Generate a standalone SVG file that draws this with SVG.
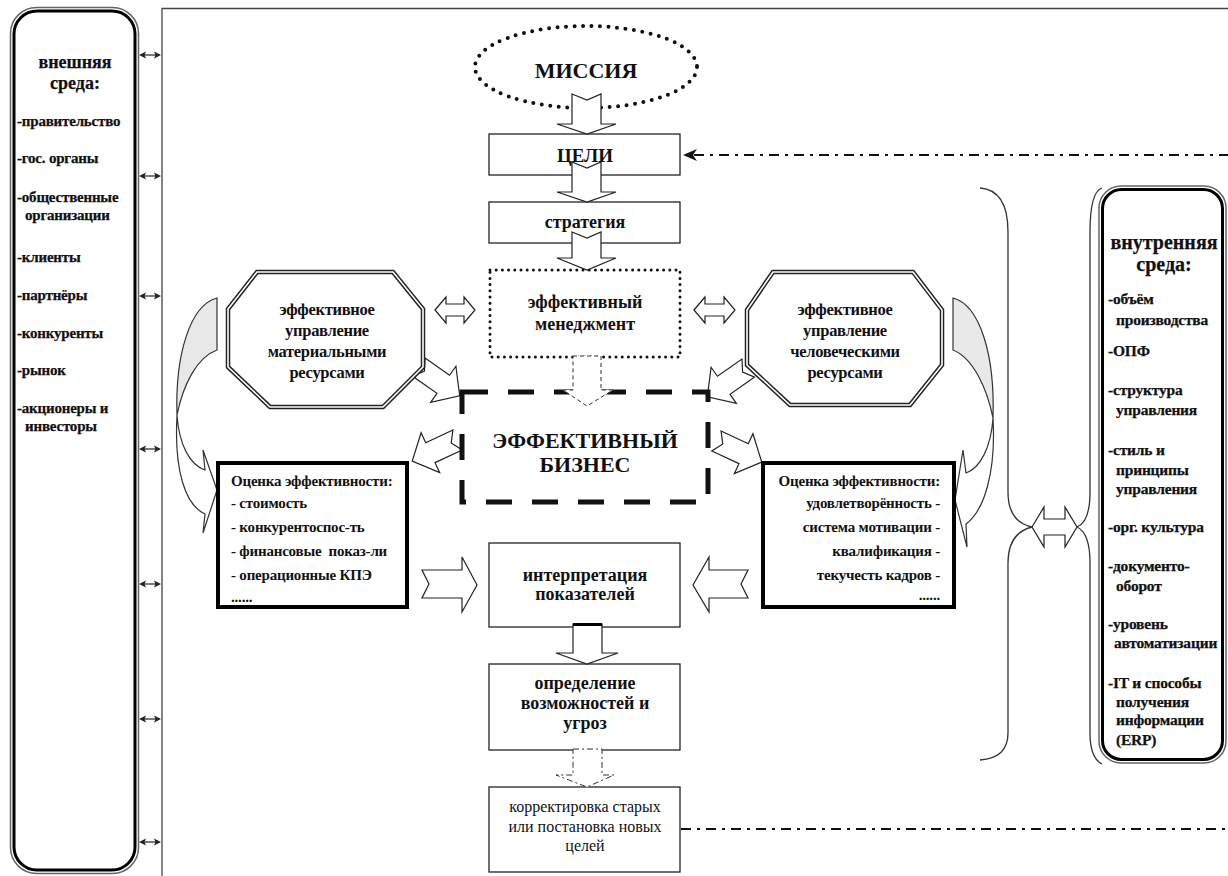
<svg xmlns="http://www.w3.org/2000/svg" width="1228" height="876" viewBox="0 0 1228 876">
<style>
.t{font-family:"Liberation Serif","Times New Roman",serif;fill:#111;}
.b{font-weight:bold;}
.c{text-anchor:middle;}
.e{text-anchor:end;}
.side{font-size:15px;font-weight:bold;letter-spacing:-0.2px;stroke:#111;stroke-width:0.25px;}
.side2{font-size:15.5px;font-weight:bold;letter-spacing:-0.2px;stroke:#111;stroke-width:0.25px;}
.ctr{font-size:18px;font-weight:bold;}
.oct{font-size:16.5px;font-weight:bold;letter-spacing:-0.3px;}
.ev{font-size:15px;font-weight:bold;letter-spacing:-0.2px;}
.box{fill:#fff;stroke:#222;stroke-width:1.3;}
.blk{fill:#fff;stroke:#222;stroke-width:1.2;stroke-linejoin:miter;}
.thin{fill:none;stroke:#333;stroke-width:1.3;}
.dd{fill:none;stroke:#111;stroke-width:2;stroke-dasharray:10 6 3 6;}
</style>
<defs>
<g id="dbl">
<line x1="142" y1="0" x2="158" y2="0" stroke="#222" stroke-width="1.2"/>
<path d="M139,0 L146,-3.5 L144.5,0 L146,3.5 Z" fill="#222"/>
<path d="M161,0 L154,-3.5 L155.5,0 L154,3.5 Z" fill="#222"/>
</g>
<path id="notch" d="M-26,-11 L4,-11 L4,-22 L24,0 L4,22 L4,11 L-26,11 L-19,0 Z"/>
<path id="octL" d="M257,272 L393,272 L423,309 L423,367 L383,407 L270,407 L228,367 L228,309 Z"/>
<path id="octR" d="M773,272 L913,272 L942,310 L942,365 L910,405 L790,405 L747,365 L747,310 Z"/>
</defs>

<!-- frame -->
<g id="frame">
<path d="M162,876 L162,8.5 L1228,8.5" fill="none" stroke="#444" stroke-width="1.3"/>
</g>

<!-- connectors -->
<g id="connectors">
<use href="#dbl" y="55"/>
<use href="#dbl" y="176"/>
<use href="#dbl" y="296"/>
<use href="#dbl" y="449"/>
<use href="#dbl" y="584"/>
<use href="#dbl" y="719"/>
<use href="#dbl" y="842"/>
<!-- dash-dot feedback lines -->
<line x1="694" y1="155" x2="1228" y2="155" class="dd"/>
<path d="M683,155 L697,149 L693,155 L697,161 Z" fill="#111"/>
<line x1="681" y1="829" x2="1228" y2="829" class="dd"/>
<!-- braces -->
<path class="thin" d="M980,188 Q1008,190 1008,232 L1008,492 Q1008,522 1032,527 Q1008,533 1008,563 L1008,733 Q1008,758 980,760"/>
<path class="thin" d="M1102,188 Q1090,192 1090,232 L1090,492 Q1090,522 1077,527 Q1090,533 1090,563 L1090,733 Q1090,758 1102,764"/>
<path class="blk" d="M1032,527 L1044,507 L1044,519 L1065,519 L1065,507 L1077,527 L1065,547 L1065,535 L1044,535 L1044,547 Z"/>
<!-- double arrows near management -->
<path class="blk" d="M435,310 L446,297 L446,304 L464,304 L464,297 L475,310 L464,323 L464,316 L446,316 L446,323 Z"/>
<path class="blk" d="M694,310 L705,297 L705,304 L724,304 L724,297 L735,310 L724,323 L724,316 L705,316 L705,323 Z"/>
<!-- curved arrows -->
<path d="M217,298 C190,305 175,355 177,415 C183,385 197,357 217,350 Z" fill="#e8e8e8" stroke="#333" stroke-width="1.2"/>
<path d="M177,415 C179,445 190,465 205,470 L203,450 L217,490 L203,533 L205,514 C185,505 174,470 177,415 Z" fill="#fff" stroke="#333" stroke-width="1.2"/>
<path d="M953,298 C980,305 995,355 993,418 C987,388 973,358 953,350 Z" fill="#e8e8e8" stroke="#333" stroke-width="1.2"/>
<path d="M993,418 C991,448 980,468 966,473 L963,450 L955,500 L967,547 L966,524 C985,510 996,470 993,418 Z" fill="#fff" stroke="#333" stroke-width="1.2"/>
<!-- diagonal notched arrows -->
<use href="#notch" class="blk" transform="translate(440,382) rotate(35)"/>
<use href="#notch" class="blk" transform="translate(727,383) rotate(145)"/>
<use href="#notch" class="blk" transform="translate(434,451) rotate(155)"/>
<use href="#notch" class="blk" transform="translate(740,452) rotate(25)"/>
<!-- horizontal notched arrows to interpretation -->
<path class="blk" d="M422,570 L462,570 L462,557 L477,585 L462,612 L462,598 L422,598 L429,584 Z"/>
<path class="blk" d="M748,570 L709,570 L709,557 L693,585 L709,612 L709,598 L748,598 L741,584 Z"/>
</g>

<!-- left panel: external environment -->
<g id="external">
<rect x="10.5" y="7.5" width="128" height="866" rx="26" fill="#fff" stroke="#666" stroke-width="1.5"/>
<rect x="14" y="11" width="121" height="859" rx="23" fill="none" stroke="#000" stroke-width="3"/>
<text class="t b c" x="75" y="68" font-size="18" stroke="#111" stroke-width="0.25">внешняя</text>
<text class="t b c" x="75" y="89" font-size="18" stroke="#111" stroke-width="0.25">среда:</text>
<text class="t side" x="17" y="126">-правительство</text>
<text class="t side" x="17" y="163">-гос. органы</text>
<text class="t side" x="17" y="202">-общественные</text>
<text class="t side" x="25" y="220">организации</text>
<text class="t side" x="17" y="262">-клиенты</text>
<text class="t side" x="17" y="300">-партнёры</text>
<text class="t side" x="17" y="338">-конкуренты</text>
<text class="t side" x="17" y="375">-рынок</text>
<text class="t side" x="17" y="413">-акционеры и</text>
<text class="t side" x="25" y="431">инвесторы</text>
</g>

<!-- right panel: internal environment -->
<g id="internal">
<rect x="1099" y="186" width="127" height="577" rx="22" fill="#fff" stroke="#666" stroke-width="1.5"/>
<rect x="1102.5" y="189.5" width="120" height="570" rx="19" fill="none" stroke="#000" stroke-width="3"/>
<text class="t b c" x="1164" y="249" font-size="20" stroke="#111" stroke-width="0.25">внутренняя</text>
<text class="t b c" x="1164" y="271" font-size="20" stroke="#111" stroke-width="0.25">среда:</text>
<text class="t side2" x="1108" y="304">-объём</text>
<text class="t side2" x="1116" y="325">производства</text>
<text class="t side2" x="1108" y="356">-ОПФ</text>
<text class="t side2" x="1108" y="395">-структура</text>
<text class="t side2" x="1116" y="415">управления</text>
<text class="t side2" x="1108" y="455">-стиль и</text>
<text class="t side2" x="1116" y="475">принципы</text>
<text class="t side2" x="1116" y="494">управления</text>
<text class="t side2" x="1108" y="532">-орг. культура</text>
<text class="t side2" x="1108" y="571">-документо-</text>
<text class="t side2" x="1116" y="591">оборот</text>
<text class="t side2" x="1108" y="629">-уровень</text>
<text class="t side2" x="1114" y="648">автоматизации</text>
<text class="t side2" x="1108" y="688">-IT и способы</text>
<text class="t side2" x="1116" y="707">получения</text>
<text class="t side2" x="1116" y="725">информации</text>
<text class="t side2" x="1116" y="745">(ERP)</text>
</g>

<!-- mission -->
<g id="mission">
<ellipse cx="586" cy="67" rx="111" ry="41" fill="#fff" stroke="#111" stroke-width="4" stroke-dasharray="0 8.5" stroke-linecap="round"/>
<text class="t b c" x="586" y="78" font-size="22">МИССИЯ</text>
</g>

<!-- goals -->
<g id="goals">
<rect class="box" x="489" y="134" width="191" height="41"/>
<text class="t b c" x="585" y="162" font-size="19">ЦЕЛИ</text>
</g>

<!-- strategy -->
<g id="strategy">
<rect class="box" x="489" y="202" width="191" height="41"/>
<text class="t c ctr" x="585" y="228">стратегия</text>
</g>

<!-- effective management -->
<g id="management">
<rect x="490" y="270" width="190" height="87" fill="#fff" stroke="#111" stroke-width="3" stroke-dasharray="0 6.2" stroke-linecap="round"/>
<text class="t c ctr" x="585" y="308" font-size="18.5">эффективный</text>
<text class="t c ctr" x="585" y="330" font-size="18.5">менеджмент</text>
</g>

<!-- effective business -->
<g id="business">
<rect x="462" y="392" width="246" height="110" fill="#fff" stroke="#111" stroke-width="5" stroke-dasharray="26 20"/>
<text class="t b c" x="585" y="448" font-size="22">ЭФФЕКТИВНЫЙ</text>
<text class="t b c" x="585" y="472" font-size="22">БИЗНЕС</text>
</g>

<!-- material resources octagon -->
<g id="material">
<use href="#octL" fill="#fff" stroke="#222" stroke-width="4.5"/>
<use href="#octL" fill="none" stroke="#fff" stroke-width="1.6"/>
<text class="t c oct" x="327" y="315">эффективное</text>
<text class="t c oct" x="327" y="336">управление</text>
<text class="t c oct" x="327" y="357">материальными</text>
<text class="t c oct" x="327" y="378">ресурсами</text>
</g>

<!-- human resources octagon -->
<g id="human">
<use href="#octR" fill="#fff" stroke="#222" stroke-width="4.5"/>
<use href="#octR" fill="none" stroke="#fff" stroke-width="1.6"/>
<text class="t c oct" x="845" y="315">эффективное</text>
<text class="t c oct" x="845" y="336">управление</text>
<text class="t c oct" x="845" y="357">человеческими</text>
<text class="t c oct" x="845" y="378">ресурсами</text>
</g>

<!-- left assessment -->
<g id="assessL">
<rect x="218" y="463" width="189" height="144" fill="#fff" stroke="#000" stroke-width="4"/>
<text class="t ev" x="231" y="486">Оценка эффективности:</text>
<text class="t ev" x="231" y="508">- стоимость</text>
<text class="t ev" x="231" y="532">- конкурентоспос-ть</text>
<text class="t ev" x="231" y="556" xml:space="preserve">- финансовые  показ-ли</text>
<text class="t ev" x="231" y="580">- операционные КПЭ</text>
<text class="t ev" x="231" y="602" font-size="9">......</text>
</g>

<!-- right assessment -->
<g id="assessR">
<rect x="763" y="463" width="191" height="144" fill="#fff" stroke="#000" stroke-width="4"/>
<text class="t ev e" x="940" y="486">Оценка эффективности:</text>
<text class="t ev e" x="940" y="508">удовлетворённость -</text>
<text class="t ev e" x="940" y="532">система мотивации -</text>
<text class="t ev e" x="940" y="556">квалификация -</text>
<text class="t ev e" x="940" y="580">текучесть кадров -</text>
<text class="t ev e" x="940" y="600" font-size="9">......</text>
</g>

<!-- interpretation -->
<g id="interpretation">
<rect class="box" x="489" y="543" width="191" height="84"/>
<text class="t c ctr" x="585" y="581">интерпретация</text>
<text class="t c ctr" x="585" y="600">показателей</text>
</g>

<!-- opportunities -->
<g id="opportunities">
<rect class="box" x="489" y="664" width="191" height="86"/>
<text class="t c ctr" x="585" y="689">определение</text>
<text class="t c ctr" x="585" y="709">возможностей и</text>
<text class="t c ctr" x="585" y="729">угроз</text>
</g>

<!-- correction -->
<g id="correction">
<rect class="box" x="489" y="787" width="191" height="85"/>
<text class="t c" x="585" y="812" font-size="16">корректировка старых</text>
<text class="t c" x="585" y="832" font-size="16">или постановка новых</text>
<text class="t c" x="585" y="851" font-size="16">целей</text>
</g>

<!-- vertical flow arrows (drawn over boxes) -->
<g id="flow">
<path class="blk" d="M572,94 L587,100 L601,94 L601,124 L616,124 L587,134 L557,124 L572,124 Z"/>
<path class="blk" d="M572,162 L587,168 L601,162 L601,192 L616,192 L587,202 L557,192 L572,192 Z"/>
<path class="blk" d="M572,232 L587,238 L601,232 L601,258 L616,258 L587,270 L557,258 L572,258 Z"/>
<path d="M573,356 L601,356 L601,390 L613,390 L587,406 L563,390 L573,390 Z" fill="#fff" stroke="#333" stroke-width="1" stroke-dasharray="4 3"/>
<path class="blk" d="M573,624 L602,624 L602,653 L618,653 L587,664 L556,653 L573,653 Z"/>
<line x1="573" y1="624.5" x2="602" y2="624.5" stroke="#000" stroke-width="3"/>
<path d="M573,749 L602,749 L602,775 L614,775 L587,787 L556,775 L573,775 Z" fill="#fff" stroke="#333" stroke-width="1" stroke-dasharray="6 3 2 3"/>
</g>
</svg>
